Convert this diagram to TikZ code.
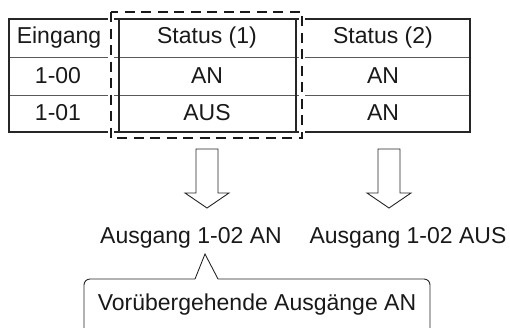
\documentclass[tikz,border=0pt]{standalone}
\usepackage{fontspec}
\setmainfont{Liberation Sans}
\begin{document}
\begin{tikzpicture}[x=1pt,y=-1pt,
  txt/.style={font=\fontsize{23}{26}\selectfont, inner sep=0pt, text=black!90},
  outer/.style={line width=1.2pt, draw=black!85},
  inner/.style={line width=0.9pt, draw=black!65},
  dashbox/.style={line width=2pt, dash pattern=on 10pt off 6.5pt, draw=black!90},
  hollow/.style={line width=0.9pt, draw=black!85, fill=white}]
\useasboundingbox (0,0) rectangle (510,327);
\clip (0,0) rectangle (510,327);
% table grid
\draw[inner] (9,57) -- (470,57);
\draw[inner] (9,95) -- (470,95);
\draw[outer] (119,19) -- (119,132);
\draw[outer] (296,19) -- (296,132);
\draw[outer] (9,19) rectangle (470,132);
% dashed highlight
\draw[white, line width=5.5pt] (111,12) rectangle (302,138);
\draw[dashbox] (111,12) rectangle (302,138);
% cells
\node[txt] (h0) at (59,38) {Eingang};
\node[txt] (h1) at (207,38) {Status (1)};
\node[txt] (h2) at (383,38) {Status (2)};
\node[txt] (a0) at (58,76) {1-00};
\node[txt] (a1) at (207,76) {AN};
\node[txt] (a2) at (383,76) {AN};
\node[txt] (b0) at (58,113) {1-01};
\node[txt] (b1) at (207,113) {AUS};
\node[txt] (b2) at (383,113) {AN};
% outputs
\node[txt] (o1) at (191,238) {Ausgang 1-02 AN};
\node[txt] (o2) at (408,238) {Ausgang 1-02 AUS};
\node[txt] (c) at (257,305) {Vorübergehende Ausgänge AN};
% hollow arrows
\draw[hollow] (196,149) -- (218,149) -- (218,193) -- (229,193) -- (207,208) -- (185,193) -- (196,193) -- cycle;
\draw[hollow] (378,149) -- (400,149) -- (400,193) -- (411,193) -- (389,208) -- (367,193) -- (378,193) -- cycle;
% callout
\coordinate (tip) at (205,254);
\draw[outer, line width=0.9pt, rounded corners=6pt] (84,340) -- (84,279) -- (195,279);
\draw[outer, line width=0.9pt] (195,279) -- (tip) -- (218,279);
\draw[outer, line width=0.9pt, rounded corners=6pt] (218,279) -- (430,279) -- (430,340);
\end{tikzpicture}
\end{document}
